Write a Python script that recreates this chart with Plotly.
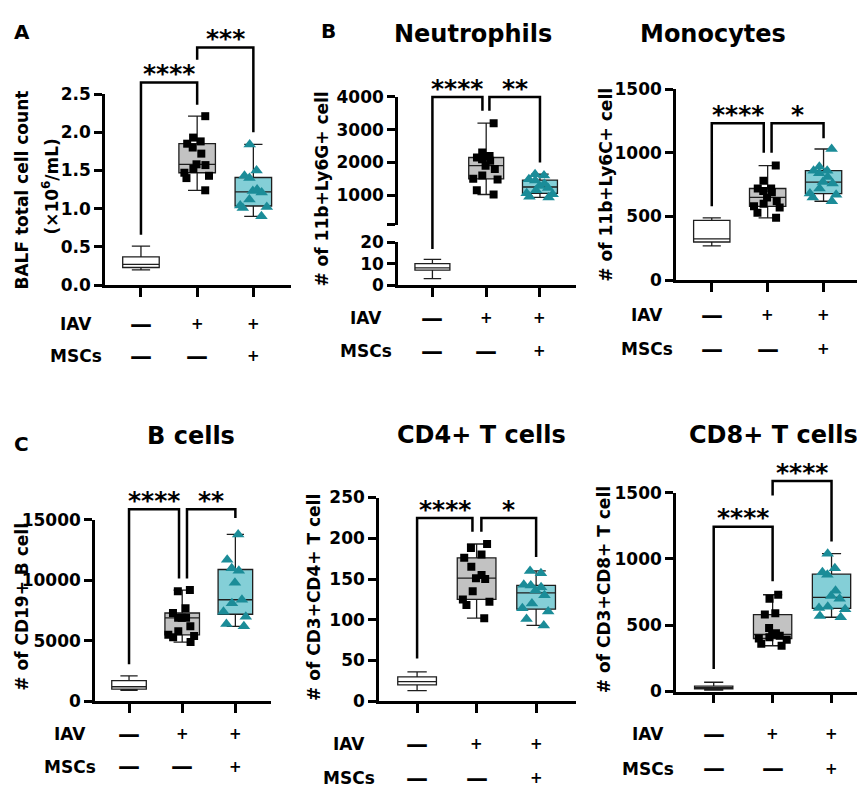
import numpy as np
import plotly.graph_objects as go

W, H = 865, 790
FONT = "DejaVu Sans"
TEAL = "#1B8C98"
TEAL_FILL = "#84CFD7"
GRAY_FILL = "#C2C2C2"
BOX_LINE = "#1e1e1e"

# ---------------- data ----------------
groups = [0, 1, 2]                 # control, IAV, IAV+MSCs
iav_row = ["—", "+", "+"]
msc_row = ["—", "—", "+"]

# control boxes: [min, q1, median, q3, max]
bal_ctrl = [0.20, 0.23, 0.27, 0.37, 0.51]
neu_ctrl = [3, 7, 8, 10, 12]
mono_ctrl = [270, 300, 325, 470, 490]
b_ctrl = [900, 1000, 1200, 1700, 2100]
cd4_ctrl = [13, 20, 24, 30, 36]
cd8_ctrl = [10, 20, 30, 40, 70]

# individual animals
bal_iav = [2.21, 1.93, 1.88, 1.85, 1.80, 1.72, 1.58, 1.57, 1.52, 1.47, 1.43, 1.40, 1.24]
bal_msc = [1.84, 1.50, 1.43, 1.40, 1.25, 1.23, 1.21, 1.12, 1.04, 1.02, 1.01, 0.90]
neu_iav = [3200, 2300, 2200, 2150, 2100, 2050, 1900, 1800, 1600, 1500, 1480, 1150, 1020]
neu_msc = [1640, 1600, 1490, 1450, 1350, 1280, 1220, 1150, 1060, 1030, 950, 930]
mono_iav = [900, 780, 720, 720, 700, 690, 650, 620, 600, 580, 570, 530, 490]
mono_msc = [1030, 890, 860, 860, 840, 810, 770, 760, 720, 680, 670, 650, 620]
b_iav = [9200, 9100, 7700, 7300, 6900, 6900, 6900, 6200, 5800, 5500, 5400, 5300, 4900]
b_msc = [13800, 11700, 11000, 10800, 9800, 8400, 8100, 7400, 7000, 6400, 6200]
cd4_iav = [193, 188, 180, 176, 165, 155, 151, 150, 135, 125, 122, 118, 102]
cd4_msc = [160, 157, 143, 142, 140, 136, 130, 120, 114, 110, 101, 93]
cd8_iav = [730, 700, 590, 580, 480, 440, 430, 420, 410, 400, 390, 360, 345]
cd8_msc = [1040, 930, 900, 880, 760, 720, 700, 640, 630, 620, 570, 560]

# axis ticks
bal_ticks = [0, 0.5, 1.0, 1.5, 2.0, 2.5]
neu_ticks_low = [0, 10, 20]
neu_ticks_up = [1000, 2000, 3000, 4000]
mono_ticks = [0, 500, 1000, 1500]
b_ticks = [0, 5000, 10000, 15000]
cd4_ticks = [0, 50, 100, 150, 200, 250]
cd8_ticks = [0, 500, 1000, 1500]

# ---------------- layout geometry (pixels) ----------------
XR = [-0.64, 2.67]
geo = {
    "bal":  dict(xn=1, yn=1, x0=97,  x1=283, ytop=78,  ybot=274, yr=[0, 2.5]),
    "neu":  dict(xn=2, yn=2, x0=390, x1=568, ytop=230, ybot=274, yr=[0, 20]),
    "neuU": dict(xn=2, yn=7, x0=390, x1=568, ytop=81,  ybot=212, yr=[100, 4000]),
    "mono": dict(xn=3, yn=3, x0=668, x1=853, ytop=73,  ybot=269, yr=[0, 1500]),
    "b":    dict(xn=4, yn=4, x0=87,  x1=263, ytop=515, ybot=701, yr=[0, 15000]),
    "cd4":  dict(xn=5, yn=5, x0=371, x1=568, ytop=492, ybot=701, yr=[0, 250]),
    "cd8":  dict(xn=6, yn=6, x0=668, x1=863, ytop=487, ybot=691, yr=[0, 1500]),
}
ticks = {
    "bal": (bal_ticks, ["%.1f" % t for t in bal_ticks]),
    "neu": (neu_ticks_low, [str(t) for t in neu_ticks_low]),
    "neuU": ([100] + neu_ticks_up, [" "] + [str(t) for t in neu_ticks_up]),
    "mono": (mono_ticks, [str(t) for t in mono_ticks]),
    "b": (b_ticks, [str(t) for t in b_ticks]),
    "cd4": (cd4_ticks, [str(t) for t in cd4_ticks]),
    "cd8": (cd8_ticks, [str(t) for t in cd8_ticks]),
}


def nm(prefix, n):
    return prefix + ("" if n == 1 else str(n))


def xp(px):
    return px / W


def yp(px):
    return 1 - px / H


def ypx(key, v):
    g = geo[key]
    r = g["yr"]
    return g["ybot"] - (v - r[0]) / (r[1] - r[0]) * (g["ybot"] - g["ytop"])


def xpx(key, c):
    g = geo[key]
    return g["x0"] + (c - XR[0]) / (XR[1] - XR[0]) * (g["x1"] - g["x0"])


fig = go.Figure()
layout = dict(width=W, height=H, margin=dict(l=0, r=0, t=0, b=0),
              plot_bgcolor="white", paper_bgcolor="white", showlegend=False)

AX = dict(showline=True, linecolor="black", linewidth=2.5, ticks="outside",
          tickcolor="black", tickwidth=2.5, showgrid=False, zeroline=False,
          fixedrange=True,
          tickfont=dict(family=FONT, size=17, color="black", weight="bold"))

for key, g in geo.items():
    if key != "neuU":
        layout[nm("xaxis", g["xn"])] = dict(
            AX, domain=[xp(g["x0"]), xp(g["x1"])], range=XR,
            anchor=nm("y", g["yn"]), tickvals=groups, showticklabels=False,
            ticklen=9, type="linear")
    tv, tt = ticks[key]
    layout[nm("yaxis", g["yn"])] = dict(
        AX, domain=[yp(g["ybot"]), yp(g["ytop"])], range=g["yr"],
        anchor=nm("x", g["xn"]), tickvals=tv, ticktext=tt, ticklen=8)


def stats_box(key, pos, st, fill):
    g = geo[key]
    fig.add_trace(go.Box(
        x=[pos], lowerfence=[st[0]], q1=[st[1]], median=[st[2]], q3=[st[3]],
        upperfence=[st[4]], fillcolor=fill, line=dict(color=BOX_LINE, width=1.3),
        width=0.65, whiskerwidth=0.5, boxpoints=False, hoverinfo="skip",
        xaxis=nm("x", g["xn"]), yaxis=nm("y", g["yn"])))


def points(key, pos, vals, symbol, size, color):
    g = geo[key]
    fig.add_trace(go.Box(
        x=[pos] * len(vals), y=vals, boxpoints="all", jitter=0.95, pointpos=0,
        fillcolor="rgba(0,0,0,0)", line=dict(color="rgba(0,0,0,0)", width=0),
        width=0.65, hoverinfo="skip",
        marker=dict(symbol=symbol, size=size, color=color, line=dict(width=0)),
        xaxis=nm("x", g["xn"]), yaxis=nm("y", g["yn"])))


def five(vals):
    v = np.asarray(vals, dtype=float)
    return [v.min(), np.percentile(v, 25), np.median(v), np.percentile(v, 75), v.max()]


panel_data = [
    ("bal", "bal", bal_ctrl, bal_iav, bal_msc),
    ("neu", "neuU", neu_ctrl, neu_iav, neu_msc),
    ("mono", "mono", mono_ctrl, mono_iav, mono_msc),
    ("b", "b", b_ctrl, b_iav, b_msc),
    ("cd4", "cd4", cd4_ctrl, cd4_iav, cd4_msc),
    ("cd8", "cd8", cd8_ctrl, cd8_iav, cd8_msc),
]
for ck, tk, ctrl, iav, msc in panel_data:
    stats_box(ck, groups[0], ctrl, "white")
    stats_box(tk, groups[1], five(iav), GRAY_FILL)
    points(tk, groups[1], iav, "square", 8, "black")
    stats_box(tk, groups[2], five(msc), TEAL_FILL)
    points(tk, groups[2], msc, "triangle-up", 11, TEAL)

# ---------------- significance brackets ----------------
# (x panel, i, j, (axis, top), (axis, left end), (axis, right end), dx left, dx right, label)
brackets = [
    ("bal", 0, 1, ("bal", 2.65), ("bal", 0.66), ("bal", 2.36), 0, 0, "****"),
    ("bal", 1, 2, ("bal", 3.11), ("bal", 2.95), ("bal", 2.0), 0, 0, "***"),
    ("neu", 0, 1, ("neuU", 4000), ("neu", 16.8), ("neuU", 3580), 0, -0.07, "****"),
    ("neu", 1, 2, ("neuU", 4000), ("neuU", 3580), ("neuU", 2000), 0.06, 0, "**"),
    ("mono", 0, 1, ("mono", 1232), ("mono", 580), ("mono", 1000), 0, -0.07, "****"),
    ("mono", 1, 2, ("mono", 1232), ("mono", 1000), ("mono", 1115), 0.07, 0, "*"),
    ("b", 0, 1, ("b", 15890), ("b", 3070), ("b", 10160), 0, -0.06, "****"),
    ("b", 1, 2, ("b", 15890), ("b", 10160), ("b", 15160), 0.09, 0, "**"),
    ("cd4", 0, 1, ("cd4", 225), ("cd4", 52.6), ("cd4", 208), 0, -0.07, "****"),
    ("cd4", 1, 2, ("cd4", 225), ("cd4", 208), ("cd4", 177), 0.08, 0, "*"),
    ("cd8", 0, 1, ("cd8", 1243), ("cd8", 169), ("cd8", 831), 0, 0, "****"),
    ("cd8", 1, 2, ("cd8", 1588), ("cd8", 1478), ("cd8", 1132), 0, 0, "****"),
]

shapes = []
annotations = []
BOLD = dict(family=FONT, color="black", weight="bold")

for xk, i, j, top, le, re, dl, dr, lab in brackets:
    xl = xpx(xk, i + dl)
    xr = xpx(xk, j + dr)
    yt = ypx(*top)
    yl = ypx(*le)
    yr_ = ypx(*re)
    path = "M %f,%f L %f,%f L %f,%f L %f,%f" % (
        xp(xl), yp(yl), xp(xl), yp(yt), xp(xr), yp(yt), xp(xr), yp(yr_))
    shapes.append(dict(type="path", path=path, xref="paper", yref="paper",
                       line=dict(color="black", width=2.5),
                       fillcolor="rgba(0,0,0,0)"))
    annotations.append(dict(text=lab, x=xp((xl + xr) / 2), y=yp(yt - 9),
                            xref="paper", yref="paper", showarrow=False,
                            xanchor="center", yanchor="middle",
                            font=dict(BOLD, size=25)))

# ---------------- titles & labels ----------------
titles = [
    ("Neutrophils", 465, 16), ("Monocytes", 705, 16), ("B cells", 183, 429),
    ("CD4+ T cells", 473, 428), ("CD8+ T cells", 765, 428),
]
for t, x, y in titles:
    annotations.append(dict(text=t, x=xp(x), y=yp(y), xref="paper", yref="paper",
                            showarrow=False, xanchor="center", yanchor="middle",
                            font=dict(BOLD, size=24)))

letters = [("A", 14, 14), ("B", 320, 13), ("C", 13, 437)]
for t, x, y in letters:
    annotations.append(dict(text=t, x=xp(x), y=yp(y), xref="paper", yref="paper",
                            showarrow=False, xanchor="center", yanchor="middle",
                            font=dict(BOLD, size=20)))

ytitles = [
    ("BALF total cell count", 14, 177), ("(×10<sup>6</sup>/mL)", 42, 173),
    ("# of 11b+Ly6G+ cell", 314, 176), ("# of 11b+Ly6C+ cell", 598, 171),
    ("# of CD19+ B cell", 14, 604), ("# of CD3+CD4+ T cell", 306, 595),
    ("# of CD3+CD8+ T cell", 596, 587),
]
for t, x, y in ytitles:
    annotations.append(dict(text=t, x=xp(x), y=yp(y), xref="paper", yref="paper",
                            showarrow=False, xanchor="center", yanchor="middle",
                            textangle=-90, font=dict(BOLD, size=17)))

# IAV / MSCs table rows: (x panel, label centre px, IAV row px, MSCs row px)
rows = [
    ("bal", 68, 314, 347), ("neu", 358, 308, 342), ("mono", 639, 305, 340),
    ("b", 62, 735, 768), ("cd4", 341, 745, 780), ("cd8", 640, 735, 770),
]
for xk, lx, y1, y2 in rows:
    for lab, yy, syms in (("IAV", y1, iav_row), ("MSCs", y2, msc_row)):
        annotations.append(dict(text=lab, x=xp(lx), y=yp(yy), xref="paper",
                                yref="paper", showarrow=False, xanchor="center",
                                yanchor="middle", font=dict(BOLD, size=17)))
        for c, s in zip(groups, syms):
            annotations.append(dict(
                text=s, x=c, y=yp(yy), xref=nm("x", geo[xk]["xn"]), yref="paper",
                showarrow=False, xanchor="center", yanchor="middle",
                font=dict(BOLD, size=22 if s == "—" else 15)))

layout["shapes"] = shapes
layout["annotations"] = annotations
fig.update_layout(**layout)
fig.write_html("out.html")
